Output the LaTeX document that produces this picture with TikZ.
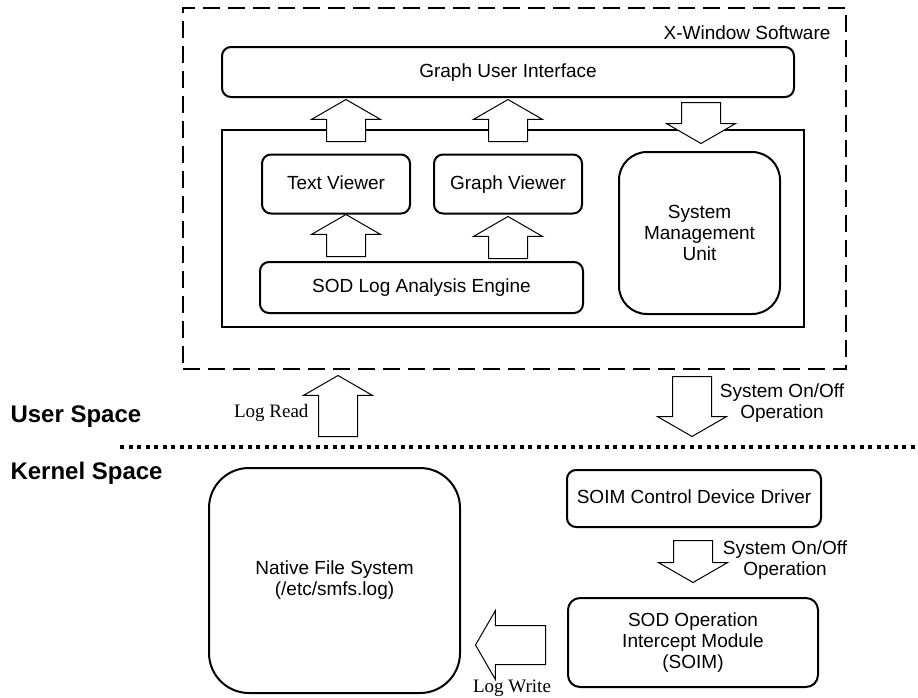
\documentclass[tikz,border=0pt]{standalone}
\usepackage{fontspec}
\setmainfont{Liberation Sans}
\newfontfamily\logfont{Liberation Serif}
\usetikzlibrary{shapes.arrows}
\newcommand{\lbl}{\fontsize{19}{21}\selectfont}
\tikzset{
  box/.style={draw, line width=2pt, rounded corners=9pt, align=center, font=\lbl},
  roundbox/.style={box, rounded corners=#1},
  oneline/.style={text height=14pt, text depth=4pt},
  fatarr/.style={single arrow, draw, line width=1pt, fill=white, inner xsep=0pt,
    inner ysep=19pt, minimum width=68pt, single arrow head extend=15pt,
    single arrow tip angle=120, anchor=tail},
  note/.style={font=\lbl, align=center},
  lognote/.style={font=\logfont\fontsize{19}{21}\selectfont},
  spacelabel/.style={font=\bfseries\fontsize{24}{26}\selectfont, anchor=west},
  xwinbox/.style={draw, line width=2.5pt, dash pattern=on 17pt off 8pt},
  sepline/.style={line width=4pt, dash pattern=on 4pt off 4.5pt}
}
\begin{document}
\begin{tikzpicture}[x=1pt,y=-1pt]
  \useasboundingbox (0,0) rectangle (918,697);
  % user space
  \node[xwinbox, minimum width=663pt, minimum height=361pt] (xwin) at (514.5,188.5) {};
  \node[note, anchor=east] (xwinlab) at (834,33) {X-Window Software};
  \node[box, oneline, minimum width=572pt, minimum height=50pt] (gui) at (508,72) {Graph User Interface};
  \node[draw, line width=2.5pt, minimum width=582pt, minimum height=197pt] (core) at (513,228.5) {};
  \node[box, oneline, minimum width=148pt, minimum height=59pt] (tv) at (336,184) {Text Viewer};
  \node[box, oneline, minimum width=148pt, minimum height=59pt] (gv) at (508,184) {Graph Viewer};
  \node[box, oneline, minimum width=323pt, minimum height=51pt] (sod) at (421.5,287.5) {SOD Log Analysis Engine};
  \node[roundbox=28pt, minimum width=161pt, minimum height=162pt] (smu) at (699.5,233) {System\\Management\\Unit};
  % kernel space
  \node[roundbox=40pt, minimum width=251pt, minimum height=225pt] (nfs) at (334.5,580.5) {Native File System\\(/etc/smfs.log)};
  \node[box, oneline, minimum width=254pt, minimum height=57pt] (ctl) at (694,498.5) {SOIM Control Device Driver};
  \node[roundbox=12pt, minimum width=250pt, minimum height=89pt] (soim) at (693,642.5) {SOD Operation\\Intercept Module\\(SOIM)};
  % block arrows
  \node[fatarr, rotate=90, minimum height=42pt] (tvgui) at (346,142) {};
  \node[fatarr, rotate=90, minimum height=42pt] (gvgui) at (508,142) {};
  \node[fatarr, rotate=-90, minimum height=41pt] (guismu) at (701,102) {};
  \node[fatarr, rotate=90, minimum height=42pt] (sodtv) at (346,257) {};
  \node[fatarr, rotate=90, minimum height=42pt] (sodgv) at (508,259) {};
  \node[fatarr, rotate=90, minimum height=61pt] (logread) at (338,437) {};
  \node[fatarr, rotate=-90, minimum height=60pt] (onoffup) at (692,376) {};
  \node[fatarr, rotate=-90, minimum height=42pt] (onoffdn) at (693,540) {};
  \node[fatarr, rotate=180, minimum height=70pt] (logwrite) at (546,645) {};
  % labels
  \node[lognote, anchor=east] (readlab) at (312,413) {Log Read};
  \node[note] (onofflab1) at (782,403) {System On/Off\\Operation};
  \node[note] (onofflab2) at (785,560) {System On/Off\\Operation};
  \node[lognote] (writelab) at (512,688) {Log Write};
  \node[spacelabel] (userlab) at (7,417) {User Space};
  \node[spacelabel] (kernlab) at (7,473) {Kernel Space};
  \draw[sepline] (120,447) -- (918,447);
\end{tikzpicture}
\end{document}
